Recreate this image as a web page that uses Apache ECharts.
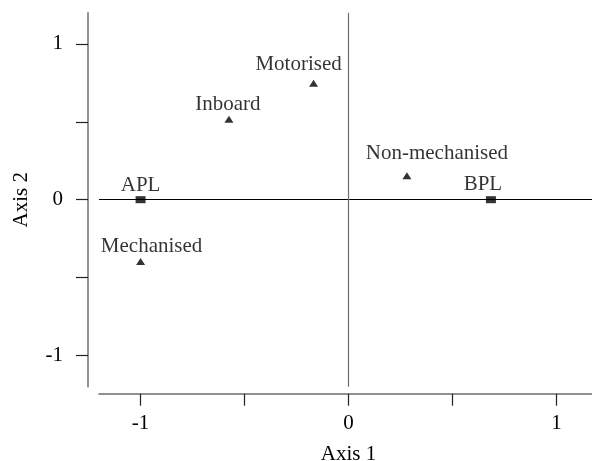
<!DOCTYPE html>
<html>
<head>
<meta charset="utf-8">
<script src="https://cdn.jsdelivr.net/npm/echarts@6/dist/echarts.min.js"></script>
<style>
html,body{margin:0;padding:0;background:#fff;}
#chart{width:592px;height:461px;}
</style>
</head>
<body>
<div id="chart"></div>
<script>
// Data
var categories = ['APL', 'BPL', 'Motorised', 'Inboard', 'Non-mechanised', 'Mechanised'];
var axis1Values = [-1.0, 0.685, -0.168, -0.575, 0.281, -1.0];
var axis2Values = [0.0, 0.0, 0.748, 0.516, 0.153, -0.396];
var groups = ['site', 'site', 'craft', 'craft', 'craft', 'craft'];
var tickValues = [-1, -0.5, 0, 0.5, 1];
var tickLabels = [-1, 0, 1];

// Styling (label nudges, marker shapes)
var labelNudge = {
  'APL': [0, 0],
  'BPL': [-8, -1],
  'Motorised': [-15, -5],
  'Inboard': [-1, -1],
  'Non-mechanised': [30, -8],
  'Mechanised': [11, -1]
};
var FONT = '"Liberation Serif", "Times New Roman", serif';
var TXT = '#000';

function buildSeries(group, symbol, size) {
  var pts = [];
  for (var i = 0; i < categories.length; i++) {
    if (groups[i] !== group) continue;
    pts.push({
      name: categories[i],
      value: [axis1Values[i], axis2Values[i]],
      label: { offset: labelNudge[categories[i]] }
    });
  }
  return {
    type: 'scatter',
    symbol: symbol,
    symbolSize: size,
    itemStyle: { color: '#000' },
    label: {
      show: true,
      position: 'top',
      distance: 0,
      formatter: '{b}',
      fontFamily: FONT,
      fontSize: 21,
      color: TXT
    },
    data: pts,
    z: 5
  };
}

var series = [
  {
    type: 'scatter',
    data: [],
    silent: true,
    markLine: {
      silent: true,
      symbol: 'none',
      label: { show: false },
      animation: false,
      data: [
        { yAxis: 0, lineStyle: { color: '#000', width: 1, type: 'solid' } },
        { xAxis: 0, lineStyle: { color: '#6e6e6e', width: 1.2, type: 'solid' } }
      ]
    }
  },
  buildSeries('site', 'rect', [10, 7]),
  buildSeries('craft', 'triangle', [9, 7])
];

var chart = echarts.init(document.getElementById('chart'));
chart.setOption({
  animation: false,
  backgroundColor: '#fff',
  grid: { left: 99, top: 12.7, width: 499, height: 374, containLabel: false, outerBoundsMode: 'none' },
  xAxis: {
    type: 'value', min: -1.2, max: 1.2,
    offset: 7,
    name: 'Axis 1', nameLocation: 'middle', nameGap: 50,
    nameTextStyle: { fontFamily: FONT, fontSize: 21, color: TXT },
    axisLine: { show: true, onZero: false, lineStyle: { color: '#6e6e6e', width: 1.5 } },
    axisTick: { show: true, length: 12, customValues: tickValues, lineStyle: { color: '#222', width: 1.2 } },
    axisLabel: { customValues: tickLabels, margin: 19, fontFamily: FONT, fontSize: 21, color: TXT },
    splitLine: { show: false }
  },
  yAxis: {
    type: 'value', min: -1.2, max: 1.2,
    offset: 11,
    name: 'Axis 2', nameLocation: 'middle', nameGap: 56,
    nameTextStyle: { fontFamily: FONT, fontSize: 21, color: TXT },
    axisLine: { show: true, onZero: false, lineStyle: { color: '#6e6e6e', width: 1.5 } },
    axisTick: { show: true, length: 12, customValues: tickValues, lineStyle: { color: '#222', width: 1.2 } },
    axisLabel: { customValues: tickLabels, margin: 25, fontFamily: FONT, fontSize: 21, color: TXT },
    splitLine: { show: false }
  },
  series: series
});
</script>
</body>
</html>
